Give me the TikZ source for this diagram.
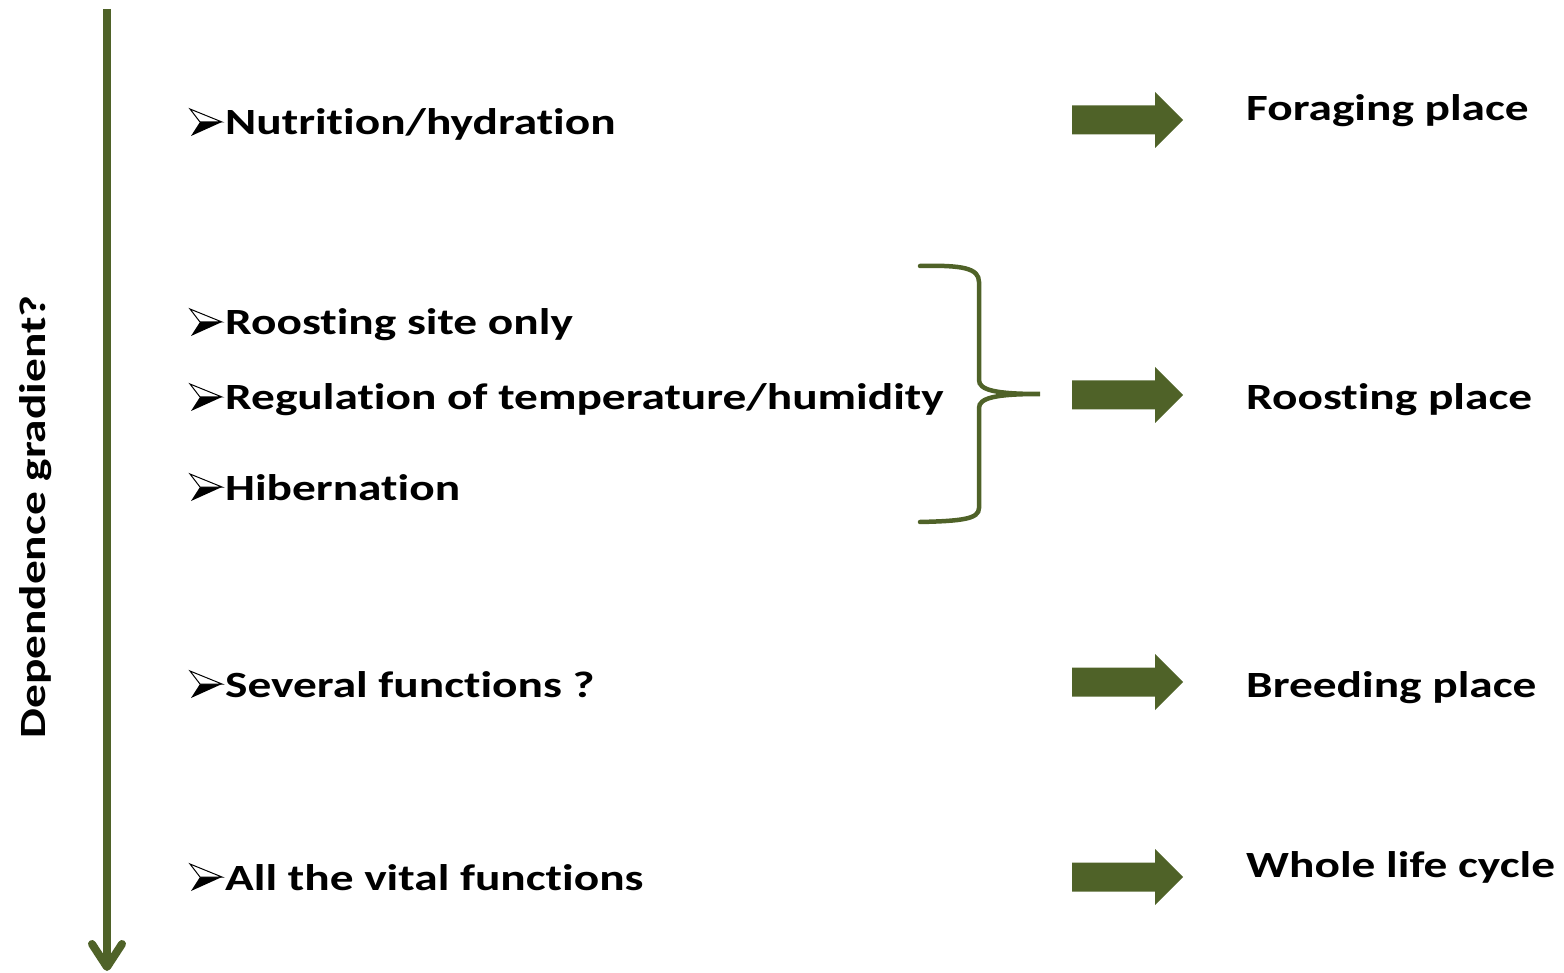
\documentclass[tikz,border=0pt]{standalone}
\usepackage{fontspec}
\setmainfont[FakeStretch=1.28,Ligatures=NoCommon]{Carlito}
\definecolor{olive}{HTML}{4F6228}
\begin{document}
\begin{tikzpicture}[x=1pt,y=-1pt,
  lbl/.style={anchor=base west,inner sep=0pt,font=\fontsize{37}{40}\selectfont\bfseries},
  blockarrow/.style={fill=olive},
  bmark/.pic={
    \fill[black] (10,-13) -- (32,-13) -- (1,1) -- cycle;
    \filldraw[fill=white,draw=black,line width=1pt,line join=miter] (0,-26) -- (32,-13) -- (10,-13) -- cycle;
  },
  ]
\useasboundingbox (0,0) rectangle (1564,973);
% gradient axis
\coordinate (axtop) at (107,9);
\coordinate (axbot) at (107,966);
\draw[olive,line width=8pt] (axtop) -- (axbot);
\draw[olive,line width=8pt,line cap=round,line join=round] (92,944) -- (107,967) -- (122,944);
\node[font=\fontsize{37}{40}\selectfont\bfseries,rotate=90,inner sep=0pt] (dep) at (36,517) {Dependence gradient?};

\newcommand{\itemline}[3]{\node[lbl] (#1) at (225,#2) {#3};
  \pic at (190,#2) {bmark};}
\itemline{nut}{135}{Nutrition/hydration}
\itemline{roost}{335}{Roosting site only}
\itemline{reg}{410}{Regulation of temperature/humidity}
\itemline{hib}{500}{Hibernation}
\itemline{sev}{697}{Several functions ?}
\itemline{all}{890}{All the vital functions}

\node[lbl] (forage) at (1246,121) {Foraging place};
\node[lbl] (roostp) at (1246,410) {Roosting place};
\node[lbl] (breed) at (1246,697) {Breeding place};
\node[lbl] (whole) at (1246,877) {Whole life cycle};

% brace
\coordinate (bt) at (920,266);
\coordinate (bm) at (1040,394);
\coordinate (bb) at (920,522);
\draw[olive,line width=4.5pt,line cap=round]
  (bt) .. controls (962,265) and (979,268) .. (979,282) -- (979,380)
  .. controls (979,390) and (995,394) .. (bm)
  .. controls (995,394) and (979,398) .. (979,408) -- (979,508)
  .. controls (979,519) and (962,521) .. (bb);

% block arrows
\foreach \n/\y in {a1/120,a2/395,a3/682,a4/877}{
  \fill[blockarrow] (1072,\y-14.5) -- (1155,\y-14.5) -- (1155,\y-28) -- (1183,\y)
   -- (1155,\y+28) -- (1155,\y+14.5) -- (1072,\y+14.5) -- cycle;
}
\end{tikzpicture}
\end{document}
